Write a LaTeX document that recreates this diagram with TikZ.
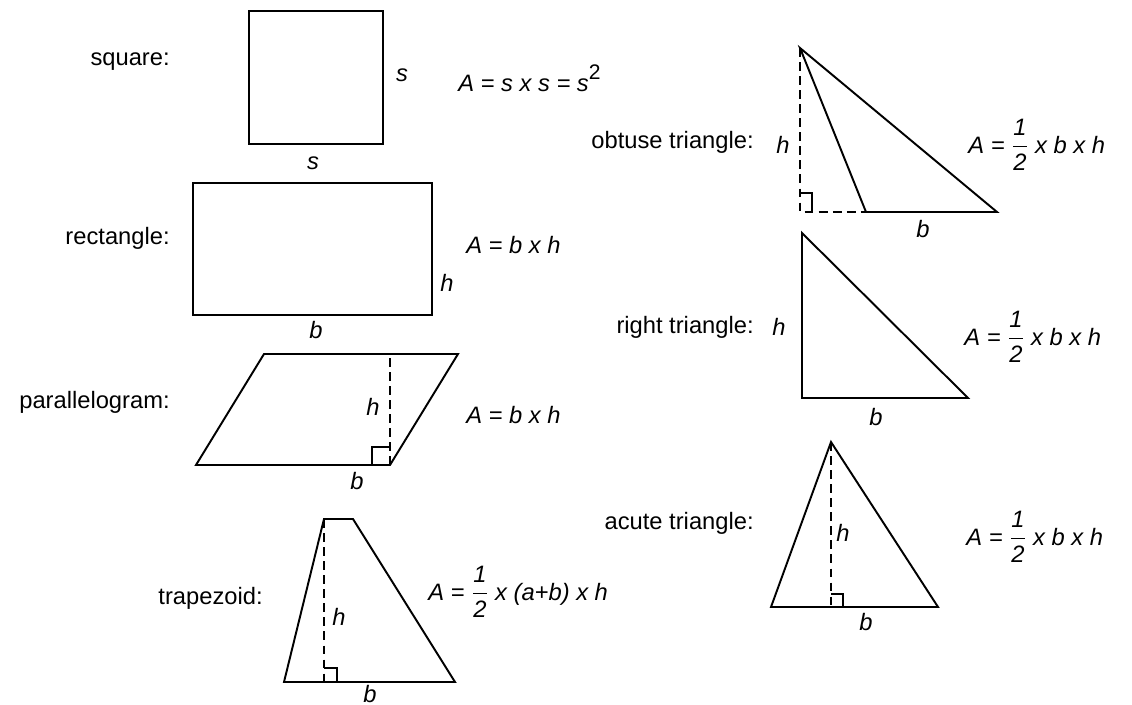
\documentclass[tikz,border=0pt]{standalone}
\usepackage{amsmath}
\usepackage{fontspec}
\setmainfont{Liberation Sans}
\usetikzlibrary{positioning}

\begin{document}
\begin{tikzpicture}[
    x=0.02cm, y=-0.02cm,
    fig/.style={line width=1.1pt, line join=miter},
    hgt/.style={line width=1pt, dash pattern=on 5pt off 3pt},
    rtangle/.style={line width=1pt},
    lbl/.style={font=\fontsize{13.5}{16}\selectfont, anchor=east, inner sep=0pt},
    var/.style={font=\fontsize{13.5}{16}\selectfont\itshape, inner sep=0pt},
    frm/.style={font=\fontsize{13.5}{16}\selectfont\itshape, anchor=west, inner sep=0pt},
  ]
  \useasboundingbox (0,0) rectangle (1132,705);

  % Square
  \draw[fig] (249,11) rectangle (383,144);
  \node[lbl] (sqname) at (170,62) {square:};
  \node[var] (sqside) at (402,75) {s};
  \node[var] (sqbase) at (313,163) {s};
  \node[frm] (sqarea) at (458,78) {A = s x s = s\raisebox{7pt}{\upshape\fontsize{12}{12}\selectfont 2}};

  % Rectangle
  \draw[fig] (193,183) rectangle (432,315);
  \node[lbl] (rcname) at (170,238) {rectangle:};
  \node[var] (rch) at (447,283) {h};
  \node[var] (rcb) at (316,330) {b};
  \node[frm] (rcarea) at (466,245) {A = b x h};

  % Parallelogram
  \coordinate (pa) at (196,465);
  \coordinate (pb) at (390,465);
  \coordinate (pc) at (458,354);
  \coordinate (pd) at (264,354);
  \draw[fig] (pa) -- (pb) -- (pc) -- (pd) -- cycle;
  \draw[hgt] (pb) -- (390,354);
  \draw[rtangle] (372,465) -- (372,447) -- (390,447);
  \node[lbl] (paname) at (170,402) {parallelogram:};
  \node[var] (pah) at (373,407) {h};
  \node[var] (pab) at (357,481) {b};
  \node[frm] (paarea) at (466,415) {A = b x h};

  % Trapezoid
  \coordinate (ta) at (284,682);
  \coordinate (tb) at (455,682);
  \coordinate (tc) at (353,519);
  \coordinate (td) at (324,519);
  \draw[fig] (ta) -- (tb) -- (tc) -- (td) -- cycle;
  \draw[hgt] (td) -- (324,682);
  \draw[rtangle] (324,668) -- (337,668) -- (337,682);
  \node[lbl] (tzname) at (263,598) {trapezoid:};
  \node[var] (tzh) at (339,617) {h};
  \node[var] (tzb) at (370,694) {b};
  \node[frm] (tzarea) at (428,592) {A = \(\dfrac{\text{1}}{\text{2}}\) x (a+b) x h};

  % Obtuse triangle
  \coordinate (oa) at (866,212);
  \coordinate (ob) at (997,212);
  \coordinate (oc) at (800,48);
  \draw[fig] (oa) -- (ob) -- (oc) -- cycle;
  \draw[hgt] (oc) -- (800,212) -- (oa);
  \draw[rtangle] (800,193) -- (812,193) -- (812,212);
  \node[lbl] (obname) at (754,142) {obtuse triangle:};
  \node[var] (obh) at (783,145) {h};
  \node[var] (obb) at (923,229) {b};
  \node[frm] (obarea) at (968,145) {A = \(\dfrac{\text{1}}{\text{2}}\) x b x h};

  % Right triangle
  \coordinate (ra) at (802,398);
  \coordinate (rb) at (968,398);
  \coordinate (rc) at (802,233);
  \draw[fig] (ra) -- (rb) -- (rc) -- cycle;
  \node[lbl] (rtname) at (754,327) {right triangle:};
  \node[var] (rth) at (779,327) {h};
  \node[var] (rtb) at (876,417) {b};
  \node[frm] (rtarea) at (964,337) {A = \(\dfrac{\text{1}}{\text{2}}\) x b x h};

  % Acute triangle
  \coordinate (aa) at (771,607);
  \coordinate (ab) at (938,607);
  \coordinate (ac) at (831,442);
  \draw[fig] (aa) -- (ab) -- (ac) -- cycle;
  \draw[hgt] (ac) -- (831,607);
  \draw[rtangle] (831,594) -- (843,594) -- (843,607);
  \node[lbl] (acname) at (754,523) {acute triangle:};
  \node[var] (ach) at (843,533) {h};
  \node[var] (acb) at (866,622) {b};
  \node[frm] (acarea) at (966,537) {A = \(\dfrac{\text{1}}{\text{2}}\) x b x h};
\end{tikzpicture}
\end{document}
